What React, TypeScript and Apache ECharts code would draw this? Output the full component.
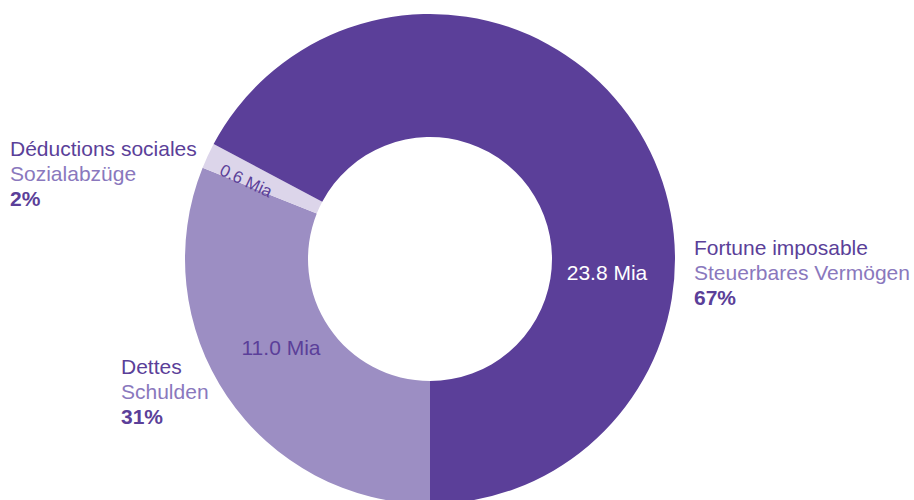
import React, { useEffect, useRef } from "react";
import * as echarts from "echarts";

const namesFr = ["Dettes", "Déductions sociales", "Fortune imposable"];
const namesDe = ["Schulden", "Sozialabzüge", "Steuerbares Vermögen"];
const values = [11.0, 0.6, 23.8];
const colors = ["#9c8ec3", "#dcd5ea", "#5b3f99"];
const valueLabelColors = ["#5b3f99", "#5b3f99", "#ffffff"];

const FONT = "'Liberation Sans', Arial, Helvetica, sans-serif";
const DARK = "#5b3f99";
const LIGHT = "#8a78bd";

export default function App() {
  const ref = useRef<HTMLDivElement>(null);
  useEffect(() => {
    document.body.style.margin = "0";
    const chart = echarts.init(ref.current!, undefined, { renderer: "svg" });
    const total = values.reduce((a, b) => a + b, 0);
    const pct = values.map((v) => Math.round((v / total) * 100));

    const inside = [
      { x: 281, y: 347, rotate: 0, fontSize: 21 },
      { x: 246, y: 181, rotate: -25, fontSize: 17 },
      { x: 607, y: 272, rotate: 0, fontSize: 21 },
    ];
    const outside = [
      { left: 121, top: 356 },
      { left: 10, top: 138 },
      { left: 694, top: 237 },
    ];

    chart.setOption({
      animation: false,
      series: [
        {
          type: "pie",
          center: [430, 259],
          radius: [122, 245],
          startAngle: 270,
          clockwise: true,
          silent: true,
          data: values.map((v, i) => ({
            name: namesFr[i],
            value: v,
            itemStyle: { color: colors[i] },
            label: {
              color: valueLabelColors[i],
              fontSize: inside[i].fontSize,
            },
          })),
          label: {
            show: true,
            position: "inside",
            fontFamily: FONT,
            formatter: (p: any) => `${p.value.toFixed(1)} Mia`,
          },
          labelLine: { show: false },
          labelLayout: (p: any) => {
            const c = inside[p.dataIndex];
            return {
              x: c.x,
              y: c.y,
              rotate: c.rotate,
              align: "center",
              verticalAlign: "middle",
            };
          },
        },
      ],
      graphic: values.map((_, i) => ({
        type: "text",
        left: outside[i].left,
        top: outside[i].top,
        style: {
          text: `{a|${namesFr[i]}}\n{b|${namesDe[i]}}\n{c|${pct[i]}%}`,
          rich: {
            a: { fontSize: 21, lineHeight: 25, fill: DARK, fontFamily: FONT },
            b: { fontSize: 21, lineHeight: 25, fill: LIGHT, fontFamily: FONT },
            c: {
              fontSize: 21,
              lineHeight: 25,
              fill: DARK,
              fontWeight: "bold",
              fontFamily: FONT,
            },
          },
        },
      })),
    });
    return () => chart.dispose();
  }, []);
  return <div ref={ref} style={{ width: 914, height: 500 }} />;
}
